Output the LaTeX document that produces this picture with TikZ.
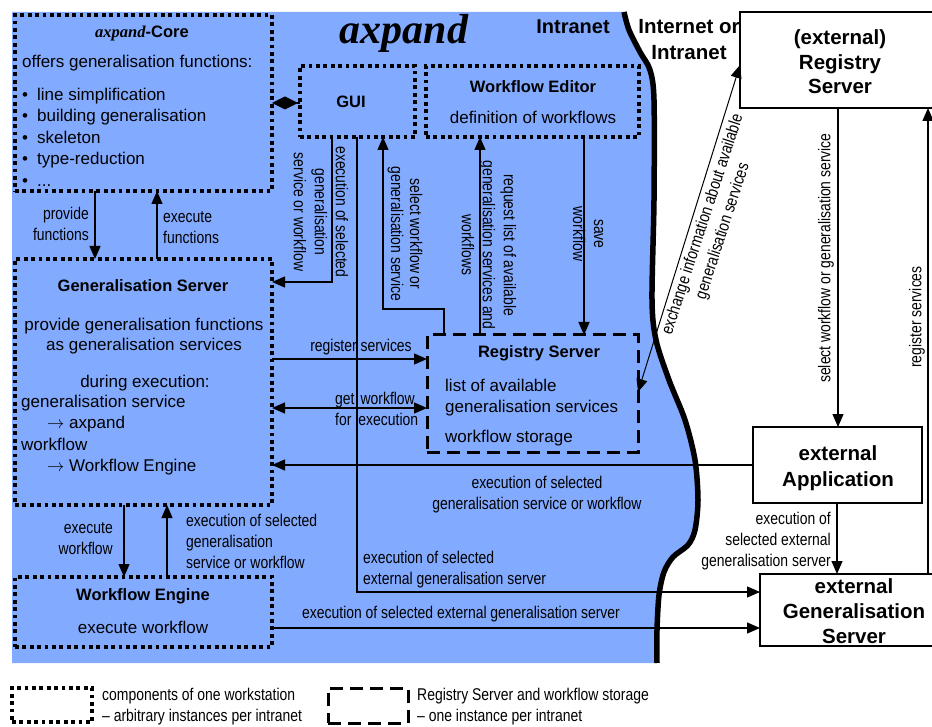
\documentclass[tikz,border=0pt]{standalone}
\usepackage{fontspec}
\setmainfont{Liberation Sans}
\newfontfamily\axfont{Liberation Serif}
\newfontfamily\narrowfont[FakeStretch=0.82, Ligatures=TeX]{Liberation Sans}
\usetikzlibrary{arrows.meta}
\definecolor{intrablue}{RGB}{130,170,255}
\tikzset{
	box/.style={inner sep=0pt, outer sep=0pt, anchor=north west},
	dotbox/.style={box, draw, line width=3.5pt, dash pattern=on 3.8pt off 3.6pt},
	dashbox/.style={box, draw, line width=3pt, dash pattern=on 13pt off 7pt},
	extbox/.style={box, draw, fill=white, line width=1.5pt},
	arr/.style={line width=1.3pt, -{Triangle[length=13pt,width=11pt]}},
	dblarr/.style={line width=1.3pt, {Triangle[length=13pt,width=11pt]}-{Triangle[length=13pt,width=11pt]}},
	lbl/.style={inner sep=0pt, font=\narrowfont\fontsize{17}{21}\selectfont},
	txt/.style={inner sep=0pt, font=\fontsize{17}{21.3}\selectfont},
	ttl/.style={inner sep=0pt, font=\bfseries\fontsize{16.5}{20}\selectfont},
	xttl/.style={inner sep=0pt, align=center, font=\bfseries\fontsize{20.5}{25}\selectfont},
}

\begin{document}
\begin{tikzpicture}[x=1pt, y=-1pt]
		%%%%% START %%%%%
		\path[fill=white, use as bounding box] (0,0) rectangle (932,727);
		
		% intranet area
		\fill[intrablue] (12,663) -- (12,12) -- plot[smooth] coordinates {(624,12) (629,30) (640,52) (650,70) (654,100) (654,200) (652,300) (656,340) (669,380) (685,420) (695,460) (698,500) (695,530) (688,545) (673,557) (664,572) (659,595) (657,630) (657,663)} -- cycle;
		\draw[line width=5.5pt] plot[smooth] coordinates {(624,12) (629,30) (640,52) (650,70) (654,100) (654,200) (652,300) (656,340) (669,380) (685,420) (695,460) (698,500) (695,530) (688,545) (673,557) (664,572) (659,595) (657,630) (657,663)};
		
		\node[inner sep=0pt, font=\axfont\bfseries\itshape\fontsize{42}{42}\selectfont] (title) at (404,33) {axpand};
		\node[inner sep=0pt, font=\bfseries\fontsize{20}{24}\selectfont] (intra) at (573,27) {Intranet};
		\node[inner sep=0pt, align=center, font=\bfseries\fontsize{20.5}{26}\selectfont] (inter) at (689,40) {Internet or\\Intranet};
		
		% workstation components
		\node[dotbox, minimum width=257pt, minimum height=176pt] (core) at (15,15) {};
		\node[ttl] (coreT) at (142,33) {{\axfont\itshape axpand}-Core};
		\node[txt, anchor=west] (coreA) at (22,63) {offers generalisation functions:};
		\node[txt, anchor=west, align=left, font=\fontsize{17}{21.5}\selectfont] (coreL) at (22,137) {\makebox[15pt][l]{•}line simplification\\\makebox[15pt][l]{•}building generalisation\\\makebox[15pt][l]{•}skeleton\\\makebox[15pt][l]{•}type-reduction\\\makebox[15pt][l]{•}...};
		
		\node[dotbox, minimum width=115pt, minimum height=71pt] (gui) at (300,66) {};
		\node[ttl] (guiT) at (351,102) {GUI};
		
		\node[dotbox, minimum width=213pt, minimum height=71pt] (wfe) at (426,66) {};
		\node[ttl] (wfeT) at (533,87) {Workflow Editor};
		\node[txt] (wfeA) at (533,117) {definition of workflows};
		
		\node[dotbox, minimum width=257pt, minimum height=246pt] (gen) at (15,259) {};
		\node[ttl] (genT) at (143,286) {Generalisation Server};
		\node[txt, align=center, font=\fontsize{17}{20}\selectfont] (genA) at (144,336) {provide generalisation functions\\as generalisation services};
		\node[txt] (genB) at (145,383) {during execution:};
		\node[txt, anchor=west, align=left] (genC) at (21,435) {generalisation service\\\hspace*{26pt}$\rightarrow$ axpand\\workflow\\\hspace*{26pt}$\rightarrow$ Workflow Engine};
		
		\node[dotbox, minimum width=257pt, minimum height=70pt] (eng) at (15,577) {};
		\node[ttl] (engT) at (143,596) {Workflow Engine};
		\node[txt] (engA) at (143,627) {execute workflow};
		
		% one per intranet
		\node[dashbox, minimum width=211pt, minimum height=117pt] (reg) at (427,335) {};
		\node[ttl] (regT) at (539,353) {Registry Server};
		\node[txt, anchor=west, align=left] (regA) at (445,397.5) {list of available\\generalisation services};
		\node[txt, anchor=west] (regB) at (445,438) {workflow storage};
		
		% outside
		\node[extbox, minimum width=210pt, minimum height=96pt] (xreg) at (740,12) {};
		\node[xttl, font=\bfseries\fontsize{20.5}{24.5}\selectfont] (xregT) at (840,62) {(external)\\Registry\\Server};
		\node[extbox, minimum width=169pt, minimum height=76pt] (xapp) at (753,427) {};
		\node[xttl, font=\bfseries\fontsize{20.5}{26}\selectfont] (xappT) at (838,468) {external\\Application};
		\node[extbox, minimum width=190pt, minimum height=72pt] (xgen) at (760,574) {};
		\node[xttl] (xgenT) at (854,611) {external\\Generalisation\\Server};
		
		% connections
		\draw[line width=1.3pt, {Diamond[length=26pt,width=13pt]}-] (core.east |- 0,103) -- (gui.west |- 0,103);
		\draw[arr] (core.south -| 95,0) -- (gen.north -| 95,0);
		\draw[arr] (gen.north -| 157,0) -- (core.south -| 157,0);
		\draw[arr] (gen.south -| 124,0) -- (eng.north -| 124,0);
		\draw[arr] (eng.north -| 167,0) -- (gen.south -| 167,0);
		\draw[arr] (gui.south -| 332,0) |- (gen.east |- 0,282);
		\draw[arr] (gui.south -| 357,0) |- (xgen.west |- 0,592);
		\draw[arr] (reg.north -| 444,0) -- ++(0,-26) -| (gui.south -| 383,0);
		\draw[arr] (reg.north -| 480,0) -- (wfe.south -| 480,0);
		\draw[arr] (wfe.south -| 584,0) -- (reg.north -| 584,0);
		\draw[arr] (gen.east |- 0,359) -- (reg.west |- 0,359);
		\draw[dblarr] (gen.east |- 0,408) -- (reg.west |- 0,408);
		\draw[arr] (xapp.west |- 0,465) -- (gen.east |- 0,465);
		\draw[arr] (eng.east |- 0,628) -- (xgen.west |- 0,628);
		\draw[dblarr, line width=1pt] (reg.east |- 0,392) -- (xreg.west |- 0,65);
		\draw[arr] (xreg.south -| 838,0) -- (xapp.north -| 838,0);
		\draw[arr] (xgen.north -| 928,0) -- (xreg.south -| 928,0);
		\draw[arr] (xapp.south -| 837,0) -- (xgen.north -| 837,0);
		
		% labels
		\node[lbl, align=right, anchor=east] (provL) at (89,223.5) {provide\\functions};
		\node[lbl, align=left, anchor=west] (execL) at (163,227.5) {execute\\functions};
		\node[lbl, align=right, anchor=east] (ewL) at (113,539) {execute\\workflow};
		\node[lbl, align=left, anchor=west] (esL) at (186,541) {execution of selected\\generalisation\\service or workflow};
		\node[lbl, align=center, rotate=-90] (guiL) at (321,212) {execution of selected\\generalisation\\service or workflow};
		\node[lbl, align=center, rotate=-90, font=\narrowfont\fontsize{17}{19}\selectfont] (selL) at (405,234) {select workflow or\\generalisation service};
		\node[lbl, align=center, rotate=-90] (reqL) at (489,245) {request list of available\\generalisation services and\\workflows};
		\node[lbl, align=center, rotate=-90] (saveL) at (588,234) {save\\workflow};
		\node[lbl] (regsL) at (361,347) {register services};
		\node[lbl, align=left, anchor=west] (getL) at (335,409) {get\hspace{6pt}workflow\\for\hspace{7pt}execution};
		\node[lbl, align=center] (appL) at (537,494.5) {execution of selected\\generalisation service or workflow};
		\node[lbl, align=left, anchor=west] (xsL) at (363,570) {execution of selected\\external generalisation server};
		\node[lbl, anchor=west] (engL) at (302,614) {execution of selected external generalisation server};
		\node[lbl, align=center, rotate=72] (exL) at (713,228) {exchange information about available\\generalisation services};
		\node[lbl, rotate=90] (swL) at (826,258) {select workflow or generalisation service};
		\node[lbl, rotate=90] (rsL) at (917,317) {register services};
		\node[lbl, align=right, anchor=east] (xeL) at (831,541) {execution of\\selected external\\generalisation server};
		
		% legend
		\node[dotbox, minimum width=80pt, minimum height=34pt] (legDot) at (12,688) {};
		\node[lbl, align=left, anchor=west] (legDotT) at (102,707) {components of one workstation\\– arbitrary instances per intranet};
		\node[dashbox, minimum width=80pt, minimum height=35pt] (legDash) at (328,688) {};
		\node[lbl, align=left, anchor=west] (legDashT) at (417,707) {Registry Server and workflow storage\\– one instance per intranet};
		%%%%% END %%%%%
\end{tikzpicture}
\end{document}
